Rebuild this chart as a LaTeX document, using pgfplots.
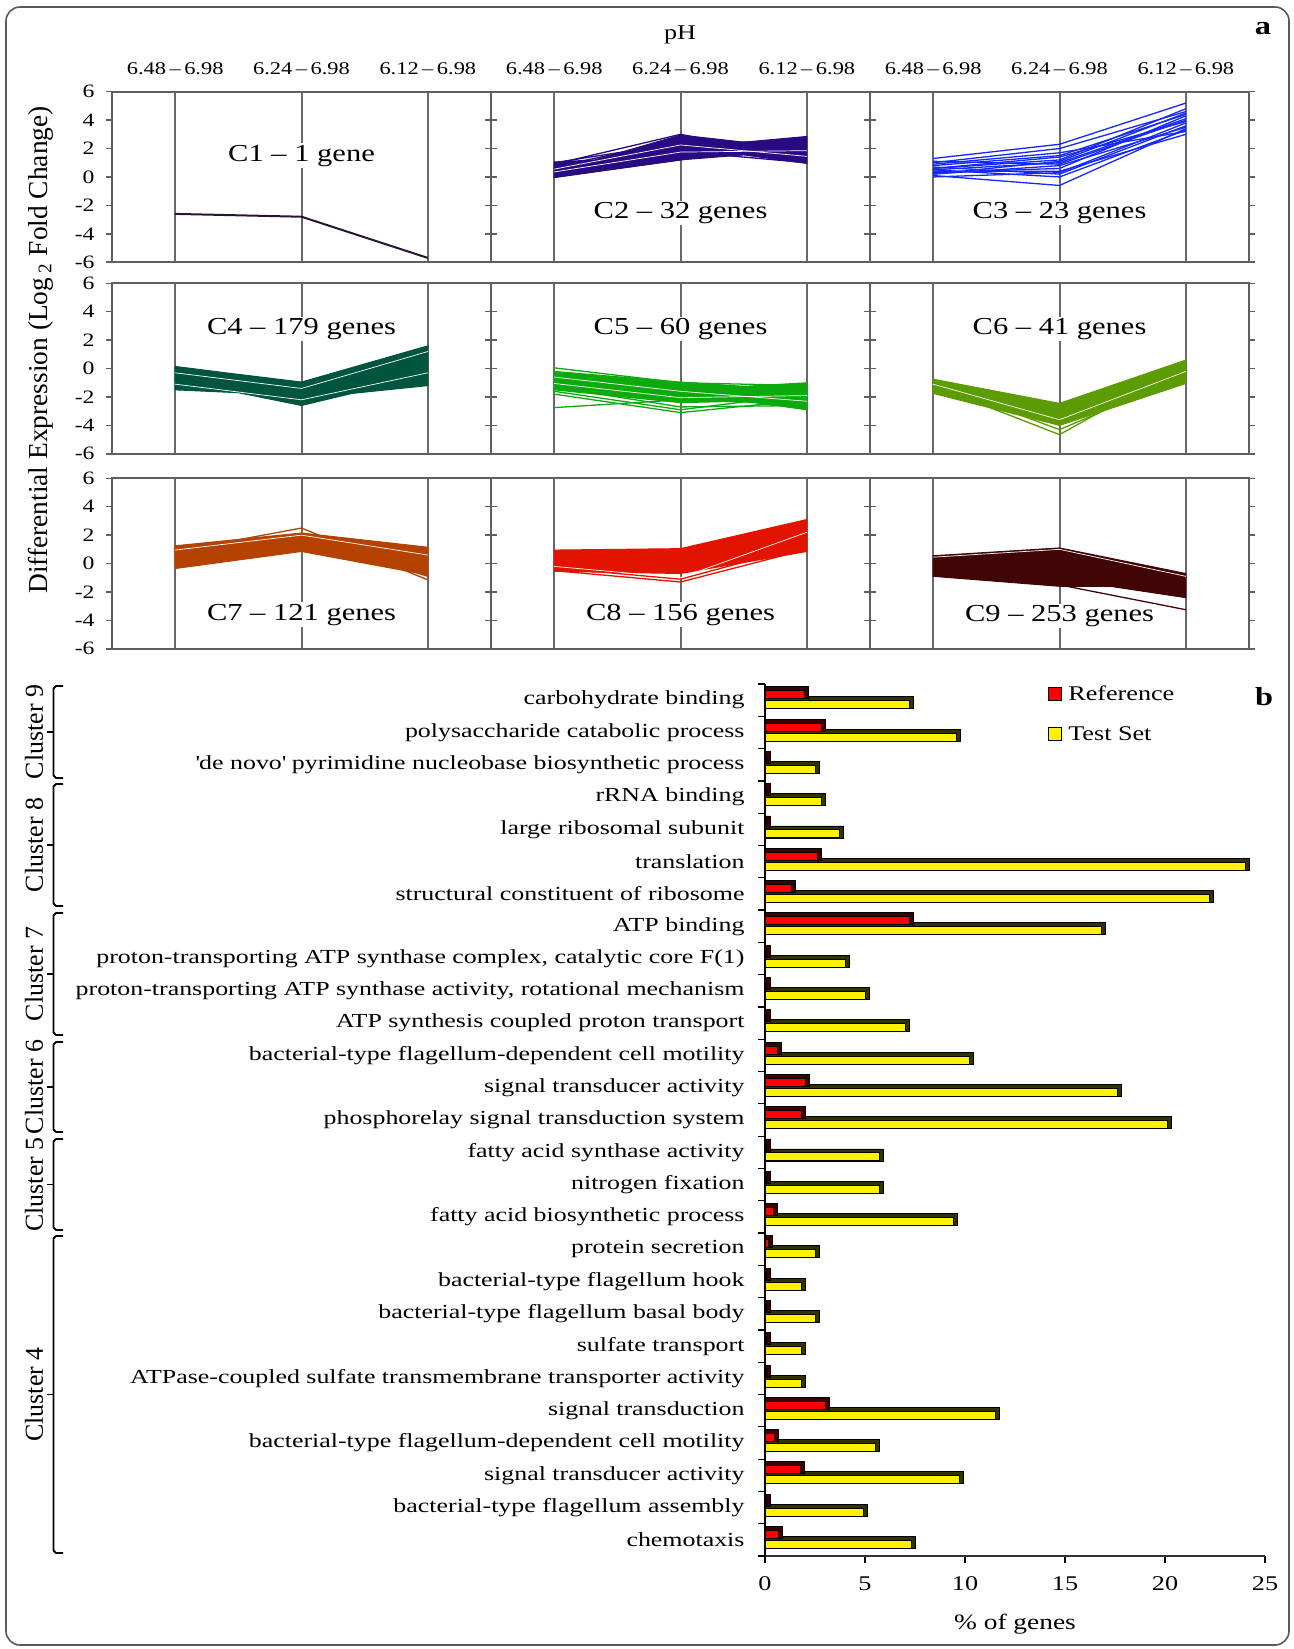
\documentclass[border=0pt]{standalone}
\usepackage{pgfplots}
\usepackage{pgfplotstable}
\pgfplotsset{compat=1.18}
\usepackage{fontspec}
\setmainfont{Liberation Serif}[FakeStretch=1.25]
\newfontfamily\rotfont{Liberation Serif}
\newfontfamily\barfont{Liberation Serif}[FakeStretch=1.3]

\definecolor{cA}{RGB}{40,20,50}
\definecolor{cB}{RGB}{40,10,130}
\definecolor{cC}{RGB}{20,40,250}
\definecolor{cD}{RGB}{0,85,62}
\definecolor{cE}{RGB}{12,170,12}
\definecolor{cF}{RGB}{92,156,0}
\definecolor{cG}{RGB}{180,66,0}
\definecolor{cH}{RGB}{226,20,0}
\definecolor{cI}{RGB}{66,5,5}
\definecolor{frm}{RGB}{95,95,95}
\definecolor{grd}{RGB}{105,105,105}
\definecolor{shR}{RGB}{60,0,0}
\definecolor{shY}{RGB}{50,50,0}

\pgfplotstableread{
y ref test
26 1.95 7.2
25 2.8 9.55
24 0.08 2.5
23 0.08 2.8
22 0.08 3.7
21 2.6 24.0
20 1.3 22.2
19 7.2 16.8
18 0.08 4.0
17 0.08 5.0
16 0.08 7.0
15 0.6 10.2
14 2.0 17.6
13 1.8 20.1
12 0.08 5.7
11 0.08 5.7
10 0.4 9.4
9 0.15 2.5
8 0.08 1.8
7 0.08 2.5
6 0.08 1.8
5 0.08 1.8
4 3.0 11.5
3 0.45 5.5
2 1.75 9.7
1 0.08 4.9
0 0.65 7.3
}\bardata

\tikzset{
  gl/.style={line width=1.3bp},
  band/.style={draw=#1, fill=#1, line width=1bp},
  lab/.style={fill=white, inner sep=1.5bp, font=\fontsize{24.5}{24.5}\selectfont},
}
\pgfplotsset{
  mini/.style={
    scale only axis, width=379bp, height=170.5bp, anchor=north west,
    xmin=0.5, xmax=3.5, ymin=-6, ymax=6,
    xtick={1,2,3}, xticklabels={},
    ytick={-6,-4,-2,0,2,4,6}, yticklabels={},
    xmajorgrids, major grid style={draw=grd, line width=2bp},
    tick align=outside, major tick length=6bp,
    xtick style={draw=none},
    ytick style={draw=frm, line width=1.5bp},
    axis line style={draw=frm, line width=2.2bp},
    tick label style={font=\fontsize{19}{19}\selectfont},
    yticklabel style={xshift=-8bp},
    xticklabel style={font=\fontsize{18}{18}\selectfont, yshift=7bp},
  },
  ylab/.style={yticklabels={-6,-4,-2,0,2,4,6}},
  toplab/.style={xticklabel pos=right,
    xticklabels={6.48\kern3.5bp--\kern3.5bp6.98,6.24\kern3.5bp--\kern3.5bp6.98,6.12\kern3.5bp--\kern3.5bp6.98}},
}

\begin{document}
\begin{tikzpicture}[x=1bp,y=1bp]
% outer frame
\draw[line width=1.6bp, draw=black!65, rounded corners=14bp] (6,-7) rectangle (1289,-1645);

% ---------------- panel a ----------------
% C1
\begin{axis}[mini, ylab, toplab, at={(112bp,-91.7bp)}]
\addplot[color=cA, line width=2bp] coordinates {(1,-2.6)(2,-2.8)(3,-5.7)};
\node[lab] at (axis cs:2,1.5) {C1 -- 1 gene};
\end{axis}
% C2
\begin{axis}[mini, toplab, at={(491bp,-91.7bp)}]
\addplot[band=cB] coordinates {(1,1.05)(1.32,1.2)(2,2.95)(2.5,2.45)(3,2.85)(3,0.95)(2.5,1.55)(2,1.2)(1,-0.05)} -- cycle;
\addplot[gl, cB] coordinates {(1,0.9)(2,3.0)(3,1.2)};
\addplot[gl, cB] coordinates {(1,0.7)(2,2.6)(3,1.6)};
\addplot[gl, cB] coordinates {(1,0.3)(2,2.0)(3,2.7)};
\addplot[gl, cB] coordinates {(1,0.0)(2,1.2)(3,2.8)};
\addplot[gl, cB] coordinates {(1,0.8)(2,1.8)(3,1.0)};
\addplot[gl, cB] coordinates {(1,1.0)(2,2.4)(3,2.5)};
\addplot[gl, white, line width=0.7bp] coordinates {(1,0.35)(2,1.75)(3,1.85)};
\addplot[gl, white, line width=0.7bp] coordinates {(1,0.55)(2,2.25)(3,1.45)};
\node[lab] at (axis cs:2,-2.55) {C2 -- 32 genes};
\end{axis}
% C3
\begin{axis}[mini, toplab, at={(870bp,-91.7bp)}]
\addplot[gl, cC] coordinates {(1,1.3)(2,2.3)(3,5.2)};
\addplot[gl, cC] coordinates {(1,1.0)(2,2.0)(3,4.6)};
\addplot[gl, cC] coordinates {(1,0.8)(2,1.5)(3,4.4)};
\addplot[gl, cC] coordinates {(1,0.6)(2,1.2)(3,4.8)};
\addplot[gl, cC] coordinates {(1,0.5)(2,1.0)(3,4.1)};
\addplot[gl, cC] coordinates {(1,0.3)(2,0.6)(3,4.3)};
\addplot[gl, cC] coordinates {(1,0.2)(2,0.8)(3,3.5)};
\addplot[gl, cC] coordinates {(1,0.1)(2,-0.6)(3,3.4)};
\addplot[gl, cC] coordinates {(1,0.0)(2,0.3)(3,3.8)};
\addplot[gl, cC] coordinates {(1,0.9)(2,1.7)(3,3.2)};
\addplot[gl, cC] coordinates {(1,0.4)(2,0.4)(3,3.0)};
\addplot[gl, cC] coordinates {(1,0.7)(2,0.2)(3,3.6)};
\addplot[gl, cC] coordinates {(1,0.6)(2,1.4)(3,3.9)};
\addplot[gl, cC] coordinates {(1,0.2)(2,1.1)(3,4.5)};
\addplot[gl, cC] coordinates {(1,0.5)(2,0.0)(3,3.3)};
\addplot[gl, cC] coordinates {(1,1.1)(2,0.9)(3,4.0)};
\node[lab] at (axis cs:2,-2.55) {C3 -- 23 genes};
\end{axis}
% C4
\begin{axis}[mini, ylab, at={(112bp,-283.3bp)}]
\addplot[band=cD] coordinates {(1,0.15)(1.4,-0.3)(2,-0.95)(3,1.6)(3,-1.2)(2.4,-1.75)(2,-2.6)(1.5,-1.7)(1,-1.5)} -- cycle;
\addplot[gl, white, line width=0.7bp] coordinates {(1,-0.3)(2,-1.4)(3,1.2)};
\addplot[gl, white, line width=0.7bp] coordinates {(1,-1.1)(2,-2.2)(3,-0.3)};
\node[lab] at (axis cs:2,2.8) {C4 -- 179 genes};
\end{axis}
% C5
\begin{axis}[mini, at={(491bp,-283.3bp)}]
\addplot[band=cE] coordinates {(1,-0.2)(2,-0.95)(2.5,-1.25)(3,-1.0)(3,-2.9)(2.5,-2.3)(2,-2.4)(1,-1.5)} -- cycle;
\addplot[gl, cE] coordinates {(1,0.05)(2,-1.0)(3,-1.2)};
\addplot[gl, cE] coordinates {(1,-2.75)(2,-2.2)(3,-2.5)};
\addplot[gl, cE] coordinates {(1,-1.8)(2,-3.1)(3,-2.2)};
\addplot[gl, cE] coordinates {(1,-1.6)(2,-2.9)(3,-1.8)};
\addplot[gl, cE] coordinates {(1,-1.3)(2,-2.7)(3,-2.6)};
\addplot[gl, white, line width=0.7bp] coordinates {(1,-1.05)(2,-2.05)(3,-1.9)};
\addplot[gl, white, line width=0.7bp] coordinates {(1,-0.6)(2,-1.6)(3,-2.3)};
\node[lab] at (axis cs:2,2.8) {C5 -- 60 genes};
\end{axis}
% C6
\begin{axis}[mini, at={(870bp,-283.3bp)}]
\addplot[band=cF] coordinates {(1,-0.75)(2,-2.45)(3,0.6)(3,-1.05)(2,-4.0)(1,-1.75)} -- cycle;
\addplot[gl, cF] coordinates {(1,-1.2)(2,-4.65)(3,0.3)};
\addplot[gl, cF] coordinates {(1,-1.0)(2,-4.3)(3,-0.5)};
\addplot[gl, white, line width=0.7bp] coordinates {(1,-1.1)(2,-3.6)(3,-0.2)};
\node[lab] at (axis cs:2,2.8) {C6 -- 41 genes};
\end{axis}
% C7
\begin{axis}[mini, ylab, at={(112bp,-478.3bp)}]
\addplot[band=cG] coordinates {(1,1.25)(2,2.15)(3,1.15)(3,-0.8)(2,0.85)(1,-0.35)} -- cycle;
\addplot[gl, cG] coordinates {(1,0.85)(2,2.5)(3,-1.15)};
\addplot[gl, cG] coordinates {(1,1.0)(2,1.9)(3,-0.9)};
\addplot[gl, white, line width=0.7bp] coordinates {(1,0.95)(2,2.0)(3,0.6)};
\node[lab] at (axis cs:2,-3.6) {C7 -- 121 genes};
\end{axis}
% C8
\begin{axis}[mini, at={(491bp,-478.3bp)}]
\addplot[band=cH] coordinates {(1,0.95)(2,1.05)(3,3.1)(3,0.85)(2,-0.7)(1,-0.55)} -- cycle;
\addplot[gl, cH] coordinates {(1,-0.5)(2,-1.3)(3,1.0)};
\addplot[gl, cH] coordinates {(1,-0.3)(2,-1.1)(3,1.3)};
\addplot[gl, white, line width=0.7bp] coordinates {(1,-0.2)(2,-1.0)(3,2.2)};
\node[lab] at (axis cs:2,-3.6) {C8 -- 156 genes};
\end{axis}
% C9
\begin{axis}[mini, at={(870bp,-478.3bp)}]
\addplot[band=cI] coordinates {(1,0.55)(2,1.1)(3,-0.7)(3,-2.4)(2.4,-1.6)(2,-1.6)(1,-0.9)} -- cycle;
\addplot[gl, cI] coordinates {(1,-0.6)(2,-1.5)(3,-3.25)};
\addplot[gl, white, line width=0.7bp] coordinates {(1,0.45)(2,1.0)(3,-0.9)};
\node[lab] at (axis cs:2,-3.7) {C9 -- 253 genes};
\end{axis}

\node[font=\fontsize{21}{21}\selectfont, anchor=base] at (680,-40) {pH};
\node[font=\bfseries\fontsize{26}{26}\selectfont, anchor=base] at (1263,-35) {a};
\node[rotate=90, font=\rotfont\fontsize{27.5}{27.5}\selectfont] at (40.5,-350)
  {Differential Expression (Log\,\textsubscript{2} Fold Change)};

% ---------------- panel b ----------------
\begin{axis}[
  at={(765bp,-1556bp)}, anchor=south west,
  scale only axis, width=500bp, height=872bp,
  xmin=0, xmax=25, ymin=-0.5, ymax=26.5,
  axis x line*=bottom, axis y line*=left,
  axis line style={-, line width=1.5bp, draw=black},
  x axis line style={-, line width=2.5bp, draw=black!80},
  xtick={0,5,...,25},
  /pgf/number format/assume math mode=true,
  xticklabel style={font=\fontsize{21}{21}\selectfont, yshift=-10bp},
  ytick={0,...,26},
  minor ytick={-0.5,0.5,...,26.5},
  tick align=outside, major tick length=7bp, minor tick length=7bp,
  major y tick style={draw=none},
  minor y tick style={draw=black, line width=1.2bp},
  major x tick style={draw=black, line width=1.2bp},
  yticklabel style={font=\barfont\fontsize{20}{20}\selectfont, xshift=-10bp},
  yticklabels={chemotaxis,
    bacterial-type flagellum assembly,
    signal transducer activity,
    bacterial-type flagellum-dependent cell motility,
    signal transduction,
    ATPase-coupled sulfate transmembrane transporter activity,
    sulfate transport,
    bacterial-type flagellum basal body,
    bacterial-type flagellum hook,
    protein secretion,
    fatty acid biosynthetic process,
    nitrogen fixation,
    fatty acid synthase activity,
    phosphorelay signal transduction system,
    signal transducer activity,
    bacterial-type flagellum-dependent cell motility,
    ATP synthesis coupled proton transport,
    {proton-transporting ATP synthase activity, rotational mechanism},
    {proton-transporting ATP synthase complex, catalytic core F(1)},
    ATP binding,
    structural constituent of ribosome,
    translation,
    large ribosomal subunit,
    rRNA binding,
    \textquotesingle de novo\textquotesingle\ pyrimidine nucleobase biosynthetic process,
    polysaccharide catabolic process,
    carbohydrate binding},
  xlabel={\% of genes},
  xlabel style={font=\fontsize{22}{22}\selectfont, at={(axis description cs:0.5,0)}, anchor=center, yshift=-68bp},
  legend image code/.code={\draw[#1, line width=1.2bp] (0bp,-6.5bp) rectangle (13bp,6.5bp); \path[draw=none, fill=none] (18bp,0bp) circle (0.01bp);},
  legend style={at={(0.565,1.0)}, anchor=north west, draw=none, fill=none,
    font=\fontsize{21}{21}\selectfont, row sep=20bp, inner sep=0pt, cells={anchor=west}},
  reverse legend,
]
\addplot[xbar, bar width=12bp, bar shift=-2.6bp, fill=shY, draw=black, line width=0.8bp, forget plot]
  table[x expr=\thisrow{test}+0.2, y=y]{\bardata};
\addplot[xbar, bar width=8bp, bar shift=-4.6bp, fill=yellow, draw=black, line width=1bp]
  table[x=test, y=y]{\bardata};
\addlegendentry{Test Set}
\addplot[xbar, bar width=12bp, bar shift=7.4bp, fill=shR, draw=black, line width=0.8bp, forget plot]
  table[x expr=\thisrow{ref}+0.2, y=y]{\bardata};
\addplot[xbar, bar width=8bp, bar shift=5.4bp, fill=red, draw=black, line width=1bp]
  table[x=ref, y=y]{\bardata};
\addlegendentry{Reference}
\end{axis}

\node[font=\bfseries\fontsize{26}{26}\selectfont, anchor=base] at (1264,-705) {b};

% cluster brackets
\foreach \t/\b/\m/\n in {686/778/732/9, 784/906/845/8, 913/1035/974/7, 1042/1132/1087/6, 1139/1230/1184.5/5, 1236/1553/1394.5/4}{
  \draw[line width=1.8bp, line join=round] (63,-\t) -- (56,-\t) -- (53.5,-\t-2.5) -- (53.5,-\b+2.5) -- (56,-\b) -- (63,-\b);
  \draw[line width=1.8bp] (53.5,-\m) -- (47,-\m);
  \node[rotate=90, font=\rotfont\fontsize{26}{26}\selectfont] at (34,-\m) {Cluster \n};
}

\pgfresetboundingbox
\path[use as bounding box] (0,0) rectangle (1293,-1649);
\end{tikzpicture}
\end{document}
